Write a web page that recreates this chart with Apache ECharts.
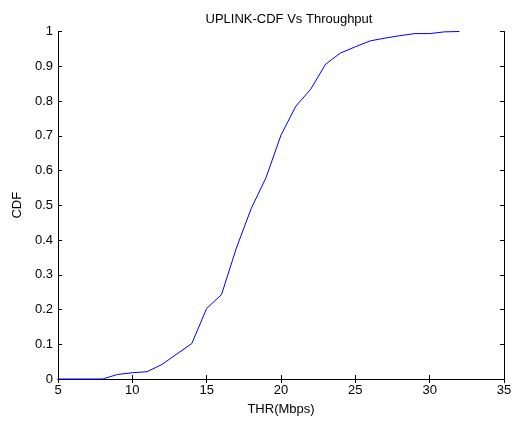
<!DOCTYPE html>
<html>
<head>
<meta charset="utf-8">
<script src="https://cdn.jsdelivr.net/npm/echarts@6/dist/echarts.min.js"></script>
<style>html,body{margin:0;padding:0;background:#fff}#c{width:515px;height:421px}</style>
</head>
<body>
<div id="c"></div>
<script>
var throughput = [5,6,7,8,9,10,11,12,13,14,15,16,17,18,19,20,21,22,23,24,25,26,27,28,29,30,31,32];
var cdf = [0,0,0,0,0.013,0.018,0.021,0.042,0.072,0.102,0.203,0.243,0.377,0.491,0.58,0.702,0.785,0.834,0.906,0.938,0.956,0.973,0.981,0.988,0.994,0.994,0.999,1.0];
var xTicks = [5,10,15,20,25,30,35];
var yTicks = [0,0.1,0.2,0.3,0.4,0.5,0.6,0.7,0.8,0.9,1];

var font = 'Liberation Sans, Arial, sans-serif';
var data = throughput.map(function(x,i){return [x, cdf[i]];});
var chart = echarts.init(document.getElementById('c'), null, {renderer:'canvas'});
var axisLine = {show:true, lineStyle:{color:'#000', width:1}};
var tick = {show:true, inside:true, length:4, lineStyle:{color:'#000'}};
chart.setOption({
  animation:false,
  backgroundColor:'#fff',
  title:{text:'UPLINK-CDF Vs Throughput', left:284, textAlign:'center', top:8,
    textStyle:{fontFamily:font, fontSize:13, fontWeight:'normal', color:'#000'}},
  grid:{left:58, right:11, top:31.5, bottom:38.5, containLabel:false},
  xAxis:[{type:'value', min:5, max:35, interval:5, position:'bottom',
    name:'THR(Mbps)', nameLocation:'middle', nameGap:24,
    nameTextStyle:{fontFamily:font, fontSize:13, color:'#000'},
    axisLine:axisLine, axisTick:tick, splitLine:{show:false},
    axisLabel:{fontFamily:font, fontSize:13, color:'#000', margin:5,
      formatter:function(v){return xTicks.indexOf(v)>=0 ? String(v) : '';}}},
   {type:'value', min:5, max:35, interval:5, position:'top',
    axisLine:axisLine, axisTick:tick, splitLine:{show:false}, axisLabel:{show:false}}],
  yAxis:[{type:'value', min:0, max:1, interval:0.1, position:'left',
    name:'CDF', nameLocation:'middle', nameGap:27, nameRotate:90,
    nameTextStyle:{fontFamily:font, fontSize:13, color:'#000'},
    axisLine:axisLine, axisTick:tick, splitLine:{show:false},
    axisLabel:{fontFamily:font, fontSize:13, color:'#000', margin:5,
      formatter:function(v){var r=Math.round(v*10)/10; return yTicks.indexOf(r)>=0 ? String(r) : '';}}},
   {type:'value', min:0, max:1, interval:0.1, position:'right',
    axisLine:axisLine, axisTick:tick, splitLine:{show:false}, axisLabel:{show:false}}],
  series:[{type:'line', data:data, xAxisIndex:0, yAxisIndex:0, symbol:'none',
    lineStyle:{color:'#0000ff', width:1}, clip:false}]
});
</script>
</body>
</html>
